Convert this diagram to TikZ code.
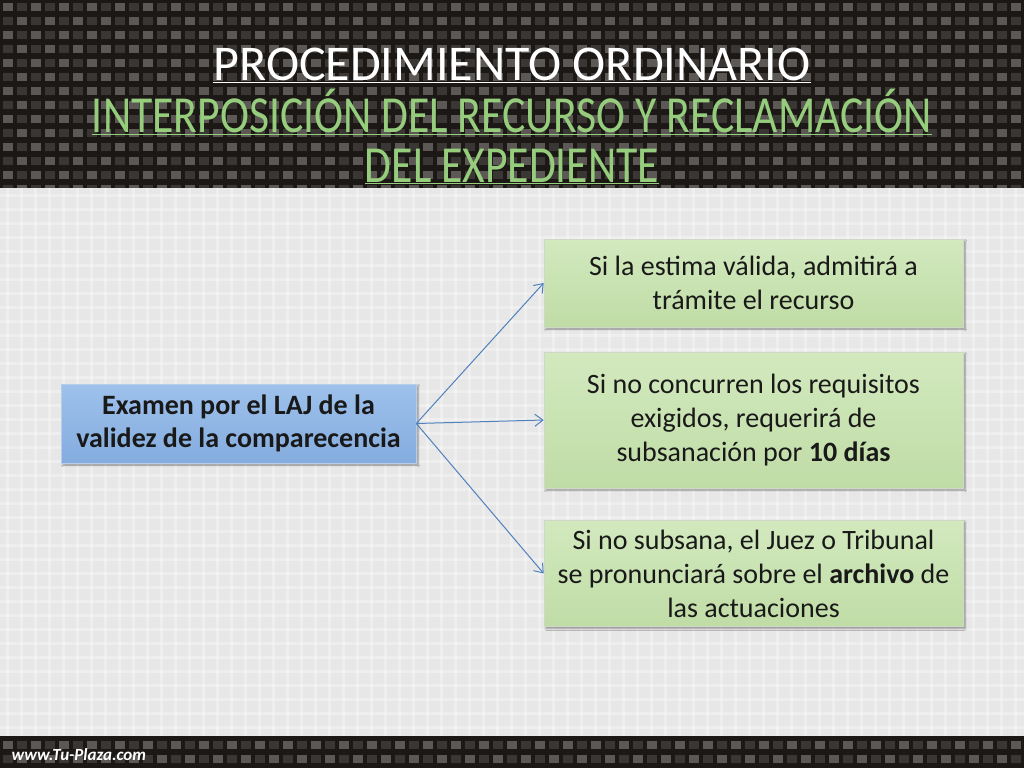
\documentclass[tikz,border=0pt]{standalone}
\usepackage{fontspec}
\setmainfont{Carlito}
\usetikzlibrary{arrows.meta,positioning,shadows.blur}
\definecolor{boxgreen}{RGB}{192,220,166}
\definecolor{boxgreentop}{RGB}{210,233,190}
\definecolor{boxblue}{RGB}{132,172,222}
\definecolor{boxbluetop}{RGB}{158,193,236}
\definecolor{arrowblue}{RGB}{79,129,189}
\definecolor{titlegreen}{RGB}{150,205,125}
\definecolor{carbon}{RGB}{28,24,22}
\definecolor{carbondim}{RGB}{58,54,52}
\definecolor{carbonlight}{RGB}{92,88,86}
\definecolor{slidegray}{RGB}{231,231,231}

\begin{document}
\begin{tikzpicture}[
    x=1pt, y=-1pt,
    stepbox/.style={
        rectangle, draw=boxgreen!70!black!40!white, line width=0.6pt,
        top color=boxgreentop, bottom color=boxgreen,
        minimum width=419pt, align=center, inner sep=0pt,
        font=\fontsize{28}{34}\selectfont, text=black!90,
        blur shadow={shadow xshift=2pt, shadow yshift=-2pt, shadow blur steps=5}
    },
    exambox/.style={
        rectangle, draw=boxblue!60!white, line width=0.6pt,
        top color=boxbluetop, bottom color=boxblue,
        minimum width=355pt, minimum height=79pt, align=center, inner sep=0pt,
        font=\fontsize{28}{33}\selectfont\bfseries, text=black!90,
        blur shadow={shadow xshift=2pt, shadow yshift=-2pt, shadow blur steps=5}
    },
    link/.style={
        arrowblue, line width=1pt, -{Straight Barb[length=8pt,width=12pt]}
    },
    heading/.style={anchor=base, font=\fontsize{52}{52}\selectfont}
]
\useasboundingbox (0,0) rectangle (1024,768);

% carbon bands and slide area
\fill[carbon] (0,0) rectangle (1024,188);
\fill[carbon] (0,736) rectangle (1024,768);
\foreach \i in {0,28,...,1008} {
    \foreach \j in {0,28,...,168} {
        \fill[carbonlight] (\i+3,\j+3) rectangle ++(10,8);
        \fill[carbondim] (\i+17,\j+3) rectangle ++(10,8);
        \fill[carbondim] (\i+3,\j+17) rectangle ++(10,8);
        \fill[carbonlight] (\i+17,\j+17) rectangle ++(10,8);
    }
    \fill[carbonlight] (\i+3,741) rectangle ++(10,8);
    \fill[carbondim] (\i+17,741) rectangle ++(10,8);
    \fill[carbondim] (\i+3,755) rectangle ++(10,8);
    \fill[carbonlight] (\i+17,755) rectangle ++(10,8);
}
\fill[slidegray] (0,188) rectangle (1024,736);
\foreach \i in {7,21,...,1024}
    \draw[white, opacity=0.3, line width=3pt] (\i,188) -- (\i,736);
\foreach \j in {195,209,...,736}
    \draw[white, opacity=0.3, line width=3pt] (0,\j) -- (1024,\j);

% titles
\node[heading, text=white, font=\fontsize{50}{50}\selectfont] (title) at (512,80)
    {\underline{PROCEDIMIENTO ORDINARIO}};
\node[heading, text=titlegreen] (subtitle) at (512,132)
    {\scalebox{0.84}[1]{\underline{INTERPOSICIÓN DEL RECURSO Y RECLAMACIÓN}}};
\node[heading, text=titlegreen] (subtitle2) at (512,182)
    {\scalebox{0.84}[1]{\underline{DEL EXPEDIENTE}}};

% boxes
\node[exambox] (exam) at (238.5,423.5) {Examen por el LAJ de la\\validez de la comparecencia};
\node[stepbox, minimum height=88pt] (valida) at (753.5,283) {Si la estima válida, admitirá a\\trámite el recurso};
\node[stepbox, minimum height=136pt] (requisitos) at (753.5,420) {Si no concurren los requisitos\\exigidos, requerirá de\\subsanación por \textbf{10 días}};
\node[stepbox, minimum height=106pt] (archivo) at (753.5,573.5) {Si no subsana, el Juez o Tribunal\\se pronunciará sobre el \textbf{archivo} de\\las actuaciones};

% arrows
\draw[link] (exam.east) -- (valida.west);
\draw[link] (exam.east) -- (requisitos.west);
\draw[link] (exam.east) -- (archivo.west);

% footer
\node[anchor=base west, text=white, font=\fontsize{17}{17}\selectfont\bfseries\itshape] (web) at (8,760) {www.Tu-Plaza.com};

\end{tikzpicture}
\end{document}
